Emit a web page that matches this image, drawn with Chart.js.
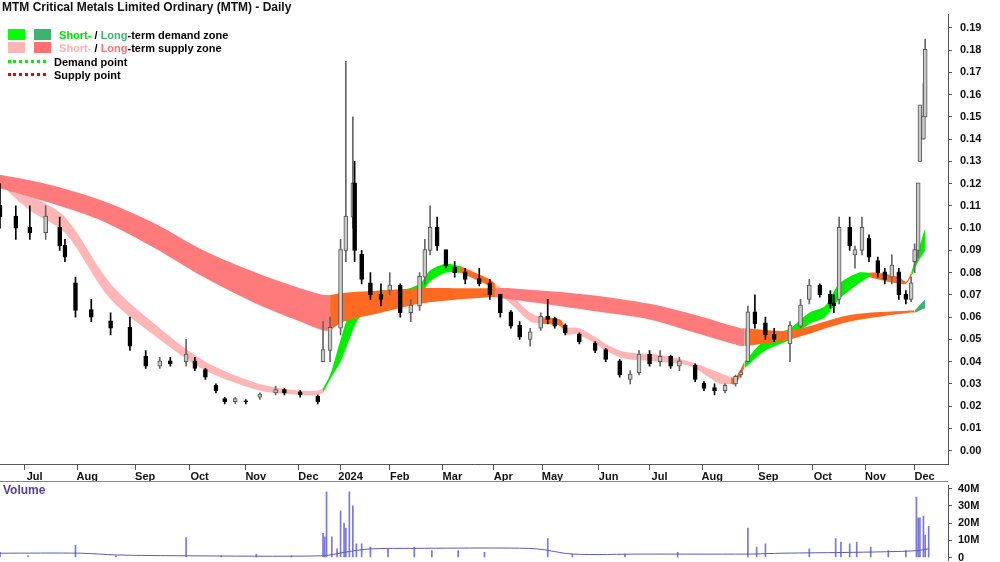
<!DOCTYPE html>
<html><head><meta charset="utf-8">
<script src="https://cdn.jsdelivr.net/npm/chart.js@4.4.1/dist/chart.umd.min.js"></script>
<style>
body{margin:0;background:#fff;font-family:"Liberation Sans",Arial,sans-serif;}
#wrap{position:relative;width:1000px;height:562px;}
#main{position:absolute;left:0;top:0;}
#vol{position:absolute;left:0;top:473px;}
.t{position:absolute;font-weight:bold;font-size:12px;color:#111;white-space:nowrap;}
.lg{position:absolute;left:8px;font-size:11px;font-weight:bold;white-space:nowrap;}
.sw{display:inline-block;width:17px;height:11px;margin-right:5px;vertical-align:-1px;}
.dl{display:inline-block;width:38px;height:0;border-top:3px dotted;margin-right:8px;vertical-align:3px;}
#sep{position:absolute;left:0;top:481px;width:948px;border-top:1px solid #888;}
</style></head><body>
<div id="wrap">
<canvas id="main" width="1000" height="482"></canvas>
<canvas id="vol" width="1000" height="100"></canvas>
<div id="sep"></div>
<div class="t" style="left:2px;top:0px">MTM Critical Metals Limited Ordinary (MTM) - Daily</div>
<div class="lg" style="top:29px"><span class="sw" style="background:#00ff00"></span><span class="sw" style="background:#3cb371;margin-left:4px"></span> <span style="color:#00e000">Short-</span> / <span style="color:#3cb371">Long</span>-term demand zone</div>
<div class="lg" style="top:42px"><span class="sw" style="background:#ffb6b6"></span><span class="sw" style="background:#ff7070;margin-left:4px"></span> <span style="color:#ffb0b0">Short-</span> / <span style="color:#ff7070">Long</span>-term supply zone</div>
<div class="lg" style="top:56px"><span class="dl" style="border-color:#00ee00"></span>Demand point</div>
<div class="lg" style="top:69px"><span class="dl" style="border-color:#ee0000"></span>Supply point</div>
<div class="t" style="left:3px;top:483px;color:#5a3d9a;font-size:12px">Volume</div>
</div>
<script>
// x positions are session numbers on the chart's own time axis
const priceDays = [-6,3,11,20,28,31,37,46,57,68,77,85,91,100,105,111,117,122,128,134,142,151,156,165,175,178,182,188,191,195,196,200,205,211,216,222,228,233,236,239,243,248,253,259,267,273,279,285,290,296,302,306,310,316,324,333,339,347,353,358,364,370,376,381,390,395,401,407,413,416,420,424,430,435,444,450,455,461,467,469,472,478,481,485,489,494,498,502,506,510,513,515,517,518,520,521];
const openP  = [0.11,0.105,0.10,0.098,0.10,0.092,0.075,0.063,0.058,0.055,0.042,0.038,0.04,0.04,0.04,0.036,0.029,0.023,0.022,0.022,0.024,0.026,0.027,0.026,0.024,0.04,0.045,0.055,0.09,0.105,0.12,0.088,0.075,0.07,0.072,0.074,0.062,0.065,0.078,0.09,0.10,0.09,0.082,0.08,0.077,0.075,0.07,0.062,0.056,0.05,0.055,0.06,0.059,0.056,0.052,0.048,0.045,0.04,0.032,0.035,0.043,0.04,0.042,0.038,0.038,0.03,0.028,0.027,0.03,0.034,0.04,0.062,0.057,0.052,0.048,0.056,0.068,0.074,0.07,0.066,0.068,0.10,0.088,0.09,0.095,0.085,0.08,0.078,0.08,0.07,0.068,0.085,0.09,0.13,0.14,0.15];
const highP  = [0.12,0.11,0.11,0.11,0.105,0.095,0.078,0.068,0.062,0.06,0.045,0.042,0.042,0.05,0.042,0.037,0.03,0.024,0.024,0.023,0.026,0.029,0.028,0.027,0.025,0.058,0.06,0.095,0.175,0.15,0.13,0.09,0.08,0.075,0.08,0.075,0.068,0.08,0.095,0.11,0.105,0.09,0.085,0.082,0.082,0.077,0.07,0.063,0.058,0.055,0.062,0.068,0.06,0.057,0.053,0.049,0.046,0.041,0.036,0.045,0.045,0.045,0.043,0.042,0.039,0.031,0.03,0.03,0.034,0.036,0.065,0.07,0.06,0.055,0.058,0.068,0.077,0.075,0.072,0.07,0.105,0.105,0.092,0.105,0.097,0.087,0.082,0.088,0.082,0.072,0.078,0.093,0.12,0.155,0.165,0.185];
const lowP   = [0.10,0.095,0.095,0.095,0.09,0.085,0.06,0.058,0.052,0.045,0.037,0.037,0.038,0.038,0.036,0.032,0.026,0.021,0.021,0.021,0.023,0.025,0.025,0.024,0.021,0.04,0.04,0.052,0.085,0.10,0.085,0.075,0.068,0.065,0.07,0.06,0.058,0.063,0.075,0.088,0.09,0.082,0.078,0.075,0.074,0.068,0.06,0.055,0.05,0.047,0.054,0.057,0.055,0.052,0.048,0.044,0.04,0.033,0.03,0.034,0.038,0.038,0.037,0.036,0.031,0.027,0.025,0.026,0.029,0.033,0.04,0.055,0.05,0.049,0.04,0.055,0.066,0.069,0.064,0.062,0.066,0.09,0.082,0.088,0.085,0.078,0.075,0.075,0.068,0.066,0.067,0.08,0.087,0.13,0.14,0.15];
const closeP = [0.105,0.10,0.098,0.105,0.092,0.087,0.063,0.06,0.055,0.047,0.038,0.04,0.039,0.043,0.037,0.033,0.027,0.022,0.023,0.022,0.025,0.027,0.026,0.025,0.022,0.045,0.055,0.09,0.105,0.12,0.09,0.077,0.07,0.068,0.074,0.062,0.065,0.078,0.09,0.10,0.092,0.083,0.08,0.077,0.075,0.07,0.062,0.056,0.051,0.053,0.06,0.059,0.056,0.053,0.049,0.045,0.041,0.034,0.034,0.043,0.039,0.042,0.038,0.04,0.032,0.028,0.027,0.029,0.033,0.035,0.062,0.057,0.052,0.05,0.056,0.065,0.074,0.07,0.066,0.065,0.10,0.092,0.09,0.10,0.087,0.08,0.077,0.083,0.07,0.068,0.075,0.09,0.12,0.155,0.15,0.18];

// long-term zone: S = supply, T = transition, D = demand
const longDays = [-6,20,50,80,110,140,165,178,182,190,211,233,256,273,276,285,330,364,390,416,418,444,478,512,515,521];
const longTop  = [0.124,0.120,0.113,0.103,0.090,0.080,0.073,0.070,0.070,0.071,0.072,0.073,0.073,0.073,0.073,0.073,0.070,0.066,0.061,0.055,0.055,0.054,0.061,0.063,0.063,0.068];
const longBot  = [0.118,0.112,0.104,0.092,0.078,0.066,0.058,0.054,0.054,0.058,0.062,0.066,0.068,0.069,0.069,0.068,0.063,0.059,0.053,0.047,0.047,0.050,0.058,0.062,0.062,0.064];
const longZone = ["S","S","S","S","S","S","S","S","T","T","T","T","T","T","S","S","S","S","S","S","T","T","T","T","D","D"];

const shortDays = [-6,11,31,57,85,111,142,165,175,178,182,188,193,199,211,222,233,239,248,256,259,273,276,285,296,302,313,316,324,347,370,387,404,410,413,418,430,444,455,464,472,483,489,494,506,510,513,517,521];
const shortTop  = [0.124,0.115,0.105,0.075,0.055,0.040,0.030,0.027,0.027,0.028,0.034,0.050,0.062,0.070,0.072,0.072,0.075,0.081,0.084,0.083,0.082,0.077,0.075,0.070,0.062,0.060,0.059,0.055,0.055,0.045,0.043,0.040,0.035,0.033,0.033,0.040,0.050,0.055,0.062,0.065,0.075,0.080,0.080,0.080,0.078,0.076,0.080,0.090,0.100];
const shortBot  = [0.120,0.108,0.098,0.068,0.050,0.036,0.027,0.025,0.025,0.026,0.032,0.040,0.050,0.060,0.064,0.068,0.070,0.076,0.080,0.080,0.079,0.074,0.072,0.066,0.058,0.057,0.056,0.052,0.052,0.042,0.040,0.038,0.030,0.030,0.030,0.037,0.045,0.050,0.057,0.060,0.068,0.075,0.078,0.077,0.075,0.075,0.078,0.085,0.090];
const shortZone = ["S","S","S","S","S","S","S","S","S","D","D","D","D","D","D","D","D","D","D","T","T","T","S","S","S","T","T","S","S","S","S","S","S","T","T","D","D","D","D","D","D","D","T","T","T","T","D","D","D"];

const volDays = [-6,10,37,60,100,120,140,160,178,179,180,183,186,188,190,191,193,195,197,200,205,215,230,240,255,270,306,320,350,380,420,425,430,455,470,473,478,482,490,500,510,516,517,518,520,521,523];
const volM    = [3,1,7,1,11.5,1,2,1,14,12,38,12,5,27,20,17,38,30,8,8,6,5,6,4,4,3,11,2,2,3,17,6,8,5,11,9,8,9,6,4,4,35,23,23,24,13,18];
const volMaDays = [-6,40,60,100,178,190,205,230,280,300,320,360,420,440,480,505,516,523];
const volMa     = [2.5,2.5,1.5,1,1,3,5,5.3,5.5,5,2,2,2,2.5,3,3.5,4,5];

const monthLabels = ["Jul","Aug","Sep","Oct","Nov","Dec","2024","Feb","Mar","Apr","May","Jun","Jul","Aug","Sep","Oct","Nov","Dec"];
// month-start positions on the session axis
const monthStarts = [8,38,71,102,134,164,188,216,246,275,303,335,364,394,426,457,487,515];

const zoneColors = {
  long: { S: "#ff7b7b", T: "#ff6a22", D: "#3cb371" },
  short: { S: "#ffb6b6", T: "#ff6a22", D: "#00f000" },
};

function bandDatasets(days, top, bot, zone, colors) {
  const out = [];
  let start = 0;
  for (let i = 1; i <= days.length; i++) {
    if (i === days.length || zone[i] !== zone[start]) {
      const end = Math.min(i, days.length - 1);
      const col = colors[zone[start]];
      const idx = [];
      for (let k = start; k <= end; k++) idx.push(k);
      out.push({ type: "line", data: idx.map(k => ({ x: days[k], y: top[k] })), borderWidth: 0, pointRadius: 0, backgroundColor: col, fill: "+1", tension: 0.3, order: 10 });
      out.push({ type: "line", data: idx.map(k => ({ x: days[k], y: bot[k] })), borderWidth: 0, pointRadius: 0, backgroundColor: col, fill: false, tension: 0.3, order: 10 });
      start = i;
    }
  }
  return out;
}

const xMin = -6, xMax = 534;
const fixedWidth = (s) => { s.width = 52; };

const wickData = priceDays.map((d, i) => ({ x: d, y: [lowP[i], highP[i]] }));
const bodyData = priceDays.map((d, i) => ({ x: d, y: [Math.min(openP[i], closeP[i]), Math.max(openP[i], closeP[i]) + 0.0004] }));
const isUp = priceDays.map((_, i) => closeP[i] > openP[i]);

new Chart(document.getElementById("main"), {
  data: {
    datasets: [
      ...bandDatasets(longDays, longTop, longBot, longZone, zoneColors.long),
      ...bandDatasets(shortDays, shortTop, shortBot, shortZone, zoneColors.short),
      { type: "bar", data: wickData, backgroundColor: isUp.map(u => u ? "#666" : "#000"), barThickness: 1, grouped: false, order: 2 },
      { type: "bar", data: bodyData, backgroundColor: isUp.map(u => u ? "#c8c8c8" : "#000"), borderColor: isUp.map(u => u ? "#555" : "#000"), borderWidth: 1, borderSkipped: false, barThickness: 4, grouped: false, order: 1 },
    ],
  },
  options: {
    responsive: false, animation: false,
    layout: { padding: 0 },
    plugins: { legend: { display: false }, tooltip: { enabled: false } },
    scales: {
      x: {
        type: "linear", min: xMin, max: xMax, offset: false,
        grid: { drawOnChartArea: false, offset: false, color: "#555", tickLength: 6 },
        border: { color: "#555" },
        afterBuildTicks: (s) => { s.ticks = monthStarts.map(v => ({ value: v })); },
        afterFit: (s) => { s.height = 18; },
        ticks: {
          autoSkip: false, maxRotation: 0, labelOffset: 10, padding: 0,
          color: "#111", font: { family: "Liberation Sans", size: 11, weight: "bold" },
          callback: (v) => monthLabels[monthStarts.indexOf(v)],
        },
      },
      y: {
        position: "right", min: -0.006, max: 0.196,
        grid: { drawOnChartArea: false, color: "#555", tickLength: 4 },
        border: { color: "#555" },
        afterFit: fixedWidth,
        afterBuildTicks: (s) => { s.ticks = []; for (let i = 0; i <= 19; i++) s.ticks.push({ value: i / 100 }); },
        ticks: { color: "#111", padding: 8, font: { family: "Liberation Sans", size: 11, weight: "bold" }, callback: (v) => v.toFixed(2) },
      },
    },
  },
});

new Chart(document.getElementById("vol"), {
  data: {
    datasets: [
      { type: "line", data: volMaDays.map((d, i) => ({ x: d, y: volMa[i] })), borderColor: "#5b5bbf", borderWidth: 1, pointRadius: 0, tension: 0.3 },
      { type: "bar", data: volDays.map((d, i) => ({ x: d, y: volM[i] })), backgroundColor: "#7777dd", barThickness: 1, grouped: false },
    ],
  },
  options: {
    responsive: false, animation: false,
    layout: { padding: 0 },
    plugins: { legend: { display: false }, tooltip: { enabled: false } },
    scales: {
      x: { type: "linear", min: xMin, max: xMax, offset: false, display: false },
      y: {
        position: "right", min: -1.67, max: 41.67,
        grid: { drawOnChartArea: false, color: "#555", tickLength: 4 },
        border: { color: "#555" },
        afterFit: fixedWidth,
        afterBuildTicks: (s) => { s.ticks = [0, 10, 20, 30, 40].map(v => ({ value: v })); },
        ticks: { color: "#111", padding: 6, font: { family: "Liberation Sans", size: 11, weight: "bold" }, callback: (v) => v === 0 ? "0" : v + "M" },
      },
    },
  },
});
</script>
</body></html>
